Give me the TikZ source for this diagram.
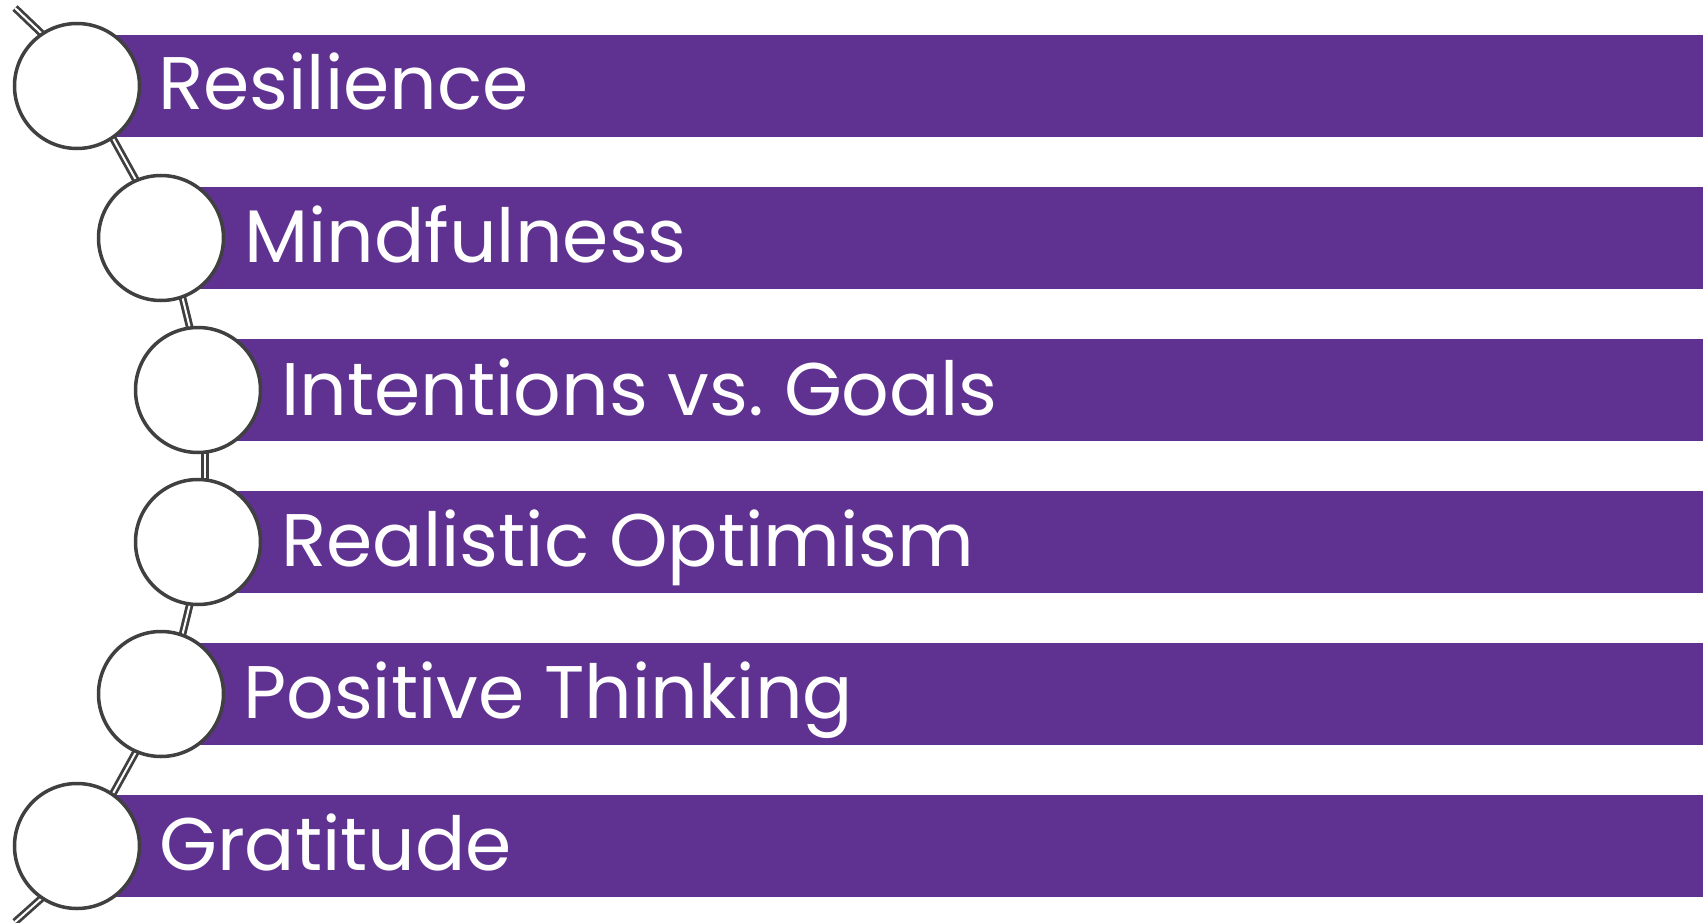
\documentclass[tikz,border=0pt]{standalone}
\usepackage{fontspec}
\setmainfont{Poppins}
\definecolor{barpurple}{HTML}{5F3191}
\definecolor{ringgray}{HTML}{404040}
\begin{document}
\begin{tikzpicture}[x=1pt,y=-1pt,
  bar/.style={fill=barpurple,draw=none},
  ring/.style={circle,draw=ringgray,line width=3.5pt,fill=white,minimum size=125pt,inner sep=0pt},
  link/.style={draw=ringgray,line width=2.8pt,double=white,double distance=2pt},
  label/.style={anchor=base west,inner sep=0pt,text=white,font=\fontsize{74.5}{80}\selectfont}]
\useasboundingbox (0,0) rectangle (1703,923);
\fill[white] (0,0) rectangle (1703,923);
% circle centres
\coordinate (p1) at (77,86);
\coordinate (p2) at (161,238);
\coordinate (p3) at (198,390);
\coordinate (p4) at (198,542);
\coordinate (p5) at (161,694);
\coordinate (p6) at (77,846);
% bars
\path[bar] (p1) ++(0,-51) rectangle (1703,137);
\path[bar] (p2) ++(0,-51) rectangle (1703,289);
\path[bar] (p3) ++(0,-51) rectangle (1703,441);
\path[bar] (p4) ++(0,-51) rectangle (1703,593);
\path[bar] (p5) ++(0,-51) rectangle (1703,745);
\path[bar] (p6) ++(0,-51) rectangle (1703,897);
% connector anchor points
\coordinate (q1) at (84,86);
\coordinate (q2) at (168,238);
\coordinate (q3) at (205,390);
\coordinate (q4) at (205,542);
\coordinate (q5) at (168,694);
\coordinate (q6) at (84,846);
\coordinate (top) at (15,8);
\coordinate (topin) at (62,53);
\coordinate (bot) at (15,922);
\coordinate (botin) at (62,880);
% connectors
\path[link] (top) -- (topin);
\path[link] (q1) -- (q2);
\path[link] (q2) -- (q3);
\path[link] (q3) -- (q4);
\path[link] (q4) -- (q5);
\path[link] (q5) -- (q6);
\path[link] (botin) -- (bot);
% circles
\node[ring] (c1) at (p1) {};
\node[ring] (c2) at (p2) {};
\node[ring] (c3) at (p3) {};
\node[ring] (c4) at (p4) {};
\node[ring] (c5) at (p5) {};
\node[ring] (c6) at (p6) {};
% labels
\node[label] (t1) at (158,110) {Resilience};
\node[label] (t2) at (244,262) {Mindfulness};
\node[label] (t3) at (281,415) {Intentions vs.\ Goals};
\node[label] (t4) at (281,566) {Realistic Optimism};
\node[label] (t5) at (243,718) {Positive Thinking};
\node[label] (t6) at (159,870) {Gratitude};
\end{tikzpicture}
\end{document}
